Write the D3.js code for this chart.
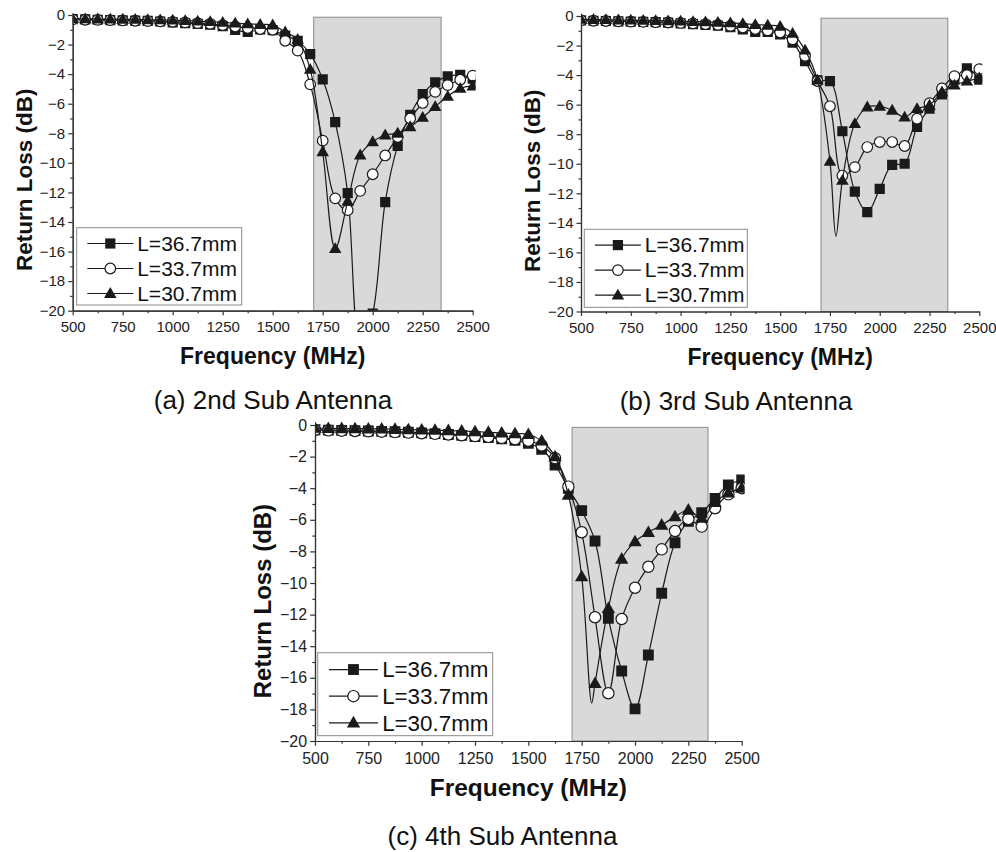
<!DOCTYPE html>
<html>
<head>
<meta charset="utf-8">
<script src="https://cdn.jsdelivr.net/npm/d3@7"></script>
<style>
  body { margin: 0; background: #fff; }
  text { font-family: "Liberation Sans", Arial, sans-serif; }
</style>
</head>
<body>
<div id="chart"></div>
<script>
// frequencies of the measured points (MHz)
const freqs = [500, 562.5, 625, 687.5, 750, 812.5, 875, 937.5, 1000, 1062.5, 1125, 1187.5,
  1250, 1312.5, 1375, 1437.5, 1500, 1562.5, 1625, 1687.5, 1750, 1812.5, 1875, 1937.5,
  2000, 2062.5, 2125, 2187.5, 2250, 2312.5, 2375, 2437.5, 2500];

const seriesNames = ["L=36.7mm", "L=33.7mm", "L=30.7mm"];

// (a) 2nd sub antenna, return loss in dB
const a367 = [-0.28, -0.3, -0.32, -0.34, -0.36, -0.38, -0.4, -0.44, -0.5, -0.55, -0.6, -0.66,
  -0.75, -1.0, -1.15, -0.98, -1.02, -1.4, -1.75, -2.65, -4.35, -7.25, -12.05, -22.5,
  -20.2, -12.65, -8.85, -6.75, -5.35, -4.55, -4.15, -4.05, -4.3];
const a337 = [-0.3, -0.32, -0.33, -0.35, -0.37, -0.39, -0.41, -0.43, -0.46, -0.5, -0.55, -0.6,
  -0.68, -0.78, -0.88, -0.95, -1.0, -1.74, -2.41, -4.69, -8.5, -12.4, -13.2, -11.9,
  -10.77, -9.5, -8.25, -7.0, -5.95, -5.2, -4.74, -4.38, -4.1];
const a307 = [-0.25, -0.26, -0.27, -0.28, -0.29, -0.3, -0.32, -0.33, -0.35, -0.38, -0.41, -0.45,
  -0.5, -0.55, -0.6, -0.64, -0.68, -1.15, -1.65, -3.68, -9.25, -15.8, -12.6, -9.47,
  -8.57, -8.12, -8.0, -7.56, -6.92, -6.2, -5.5, -4.96, -4.8];

// (b) 3rd sub antenna
const b367 = [-0.3, -0.32, -0.34, -0.36, -0.38, -0.4, -0.42, -0.45, -0.5, -0.55, -0.6, -0.65,
  -0.75, -0.9, -1.08, -1.08, -1.24, -1.81, -3.05, -4.35, -4.41, -7.8, -11.88, -13.28,
  -11.7, -10.07, -10.0, -7.5, -6.27, -5.3, -4.3, -3.55, -4.3];
const b337 = [-0.3, -0.32, -0.34, -0.36, -0.38, -0.4, -0.42, -0.44, -0.47, -0.5, -0.55, -0.6,
  -0.67, -0.78, -0.88, -0.97, -1.12, -1.58, -2.7, -4.4, -6.11, -10.8, -10.23, -8.87,
  -8.53, -8.53, -8.8, -6.95, -5.9, -4.9, -4.07, -4.0, -3.6];
const b307 = [-0.22, -0.24, -0.25, -0.27, -0.28, -0.3, -0.31, -0.33, -0.35, -0.38, -0.4, -0.43,
  -0.47, -0.52, -0.58, -0.63, -0.7, -1.18, -2.31, -4.34, -9.84, -11.13, -7.28, -6.16,
  -6.11, -6.38, -6.84, -6.27, -6.04, -5.14, -4.68, -4.41, -4.2];

// (c) 4th sub antenna
const c367 = [-0.3, -0.32, -0.34, -0.36, -0.38, -0.4, -0.43, -0.46, -0.5, -0.55, -0.6, -0.66,
  -0.73, -0.8, -0.88, -0.97, -1.16, -1.54, -2.53, -4.0, -5.42, -7.34, -12.24, -15.57,
  -17.97, -14.56, -10.65, -7.45, -6.1, -5.55, -4.64, -3.8, -3.48];
const c337 = [-0.32, -0.34, -0.36, -0.38, -0.4, -0.42, -0.45, -0.48, -0.52, -0.56, -0.6, -0.65,
  -0.7, -0.75, -0.82, -0.9, -1.0, -1.3, -2.1, -3.9, -6.79, -12.17, -16.98, -12.28,
  -10.3, -8.97, -7.87, -6.71, -5.95, -6.43, -5.27, -4.39, -4.0];
const c307 = [-0.2, -0.21, -0.22, -0.23, -0.24, -0.25, -0.27, -0.29, -0.31, -0.33, -0.35, -0.38,
  -0.42, -0.46, -0.5, -0.55, -0.59, -1.01, -2.0, -4.43, -9.6, -16.35, -11.6, -8.48,
  -7.38, -6.79, -6.33, -5.8, -5.38, -5.9, -4.9, -4.3, -4.0];

// sharp dips of the fitted curves that fall between two markers
const bDip307 = [[1780, -14.9]];
const cDip307 = [[1797, -17.6]];

// shaded band and axis ticks
const band = [1705, 2342];
const bandTop = -0.15;
const xTicks = [500, 750, 1000, 1250, 1500, 1750, 2000, 2250, 2500];
const xMinor = [625, 875, 1125, 1375, 1625, 1875, 2125, 2375];
const yTicks = [0, -2, -4, -6, -8, -10, -12, -14, -16, -18, -20];
const yMinor = [-1, -3, -5, -7, -9, -11, -13, -15, -17, -19];

const panels = [
  { x0: 72.7, x1: 472.7, y0: 15, y1: 310.7, k: 1, caption: "(a) 2nd Sub Antenna", capX: 273, capY: 409,
    xTitleY: 364, legend: [76.7, 227.7, 165, 77.3], series: [a367, a337, a307], dips: [[], [], []] },
  { x0: 581, x1: 979.3, y0: 16, y1: 311.5, k: 1, caption: "(b) 3rd Sub Antenna", capX: 736, capY: 410,
    xTitleY: 365, legend: [584.3, 229.3, 163, 78], series: [b367, b337, b307], dips: [[], [], bDip307] },
  { x0: 315, x1: 741.7, y0: 425, y1: 741, k: 1.065, caption: "(c) 4th Sub Antenna", capX: 502.5, capY: 845,
    xTitleY: 796, legend: [317.7, 652.7, 175, 83], series: [c367, c337, c307], dips: [[], [], cDip307] }
];

const ink = "#1a1a1a";

const svg = d3.select("#chart")
  .append("svg")
  .attr("width", 996)
  .attr("height", 852);

// marker for series i, drawn at (x, y)
function drawMarker(g, i, x, y, k) {
  if (i === 1) {
    g.append("circle")
      .attr("cx", x).attr("cy", y).attr("r", 5.3 * k)
      .attr("fill", "#fff").attr("stroke", ink).attr("stroke-width", 1.2);
  } else {
    const type = i === 0 ? d3.symbolSquare : d3.symbolTriangle;
    const size = i === 0 ? 104 * k * k : 68 * k * k;
    g.append("path")
      .attr("d", d3.symbol().type(type).size(size)())
      .attr("transform", "translate(" + x + "," + (y + (i === 2 ? 0.8 : 0)) + ")")
      .attr("fill", ink);
  }
}

function drawPanel(p, idx) {
  const k = p.k;
  const x = d3.scaleLinear().domain([500, 2500]).range([p.x0, p.x1]);
  const y = d3.scaleLinear().domain([0, -20]).range([p.y0, p.y1]);
  const g = svg.append("g");

  const clipId = "clip" + idx;
  svg.append("clipPath").attr("id", clipId)
    .append("rect")
    .attr("x", p.x0).attr("y", p.y0 - 10)
    .attr("width", p.x1 - p.x0 + 3).attr("height", p.y1 - p.y0 + 10);

  // shaded band
  g.append("rect")
    .attr("x", x(band[0])).attr("y", y(bandTop))
    .attr("width", x(band[1]) - x(band[0])).attr("height", y(-20) - y(bandTop))
    .attr("fill", "#d9d9d9").attr("stroke", "#8a8a8a").attr("stroke-width", 1);

  const plot = g.append("g").attr("clip-path", "url(#" + clipId + ")");
  const line = d3.line()
    .x(d => x(d[0])).y(d => y(d[1]))
    .curve(d3.curveCatmullRom.alpha(0.5));

  p.series.forEach((vals, i) => {
    const pts = freqs.map((f, j) => [f, vals[j]]).concat(p.dips[i]).sort((a, b) => a[0] - b[0]);
    plot.append("path")
      .attr("d", line(pts))
      .attr("fill", "none").attr("stroke", ink).attr("stroke-width", 1.2);
    freqs.forEach((f, j) => drawMarker(plot, i, x(f), y(vals[j]), k));
  });

  // axes
  const tickFont = 15 * k;
  g.append("g").attr("transform", "translate(0," + p.y1 + ")")
    .call(d3.axisBottom(x).tickValues(xTicks).tickFormat(d3.format("d"))
      .tickSize(4.5 * k).tickPadding(6 * k).tickSizeOuter(0));
  g.append("g").attr("transform", "translate(0," + p.y1 + ")")
    .call(d3.axisBottom(x).tickValues(xMinor).tickSize(2.5 * k).tickFormat("").tickSizeOuter(0));
  g.append("g").attr("transform", "translate(" + p.x0 + ",0)")
    .call(d3.axisLeft(y).tickValues(yTicks).tickFormat(d3.format("d"))
      .tickSize(4.5 * k).tickPadding(3 * k).tickSizeOuter(0));
  g.append("g").attr("transform", "translate(" + p.x0 + ",0)")
    .call(d3.axisLeft(y).tickValues(yMinor).tickSize(2.5 * k).tickFormat("").tickSizeOuter(0));

  g.selectAll(".domain, .tick line").attr("stroke", "#333").attr("stroke-width", 1.2);
  g.selectAll(".tick text")
    .attr("fill", "#222")
    .style("font-family", "'Liberation Sans', Arial, sans-serif")
    .style("font-size", tickFont + "px");

  // axis titles
  g.append("text")
    .attr("x", (p.x0 + p.x1) / 2).attr("y", p.xTitleY)
    .attr("text-anchor", "middle")
    .attr("font-weight", "bold").attr("font-size", 23 * k).attr("fill", "#111")
    .text("Frequency (MHz)");
  const tx = p.x0 - 41 * k;
  const ty = (p.y0 + p.y1) / 2 + 17 * k;
  g.append("text")
    .attr("transform", "translate(" + tx + "," + ty + ") rotate(-90)")
    .attr("text-anchor", "middle")
    .attr("font-weight", "bold").attr("font-size", 22.5 * k).attr("fill", "#111")
    .text("Return Loss (dB)");

  // legend
  const [lx, ly, lw, lh] = p.legend;
  g.append("rect")
    .attr("x", lx).attr("y", ly).attr("width", lw).attr("height", lh)
    .attr("fill", "#fff").attr("stroke", "#8a8a8a").attr("stroke-width", 1);
  seriesNames.forEach((name, i) => {
    const ry = ly + 15.8 * k + i * 25 * k;
    g.append("line")
      .attr("x1", lx + 10.6 * k).attr("x2", lx + 56.6 * k)
      .attr("y1", ry).attr("y2", ry)
      .attr("stroke", ink).attr("stroke-width", 1.2);
    drawMarker(g, i, lx + 33.6 * k, ry, k);
    g.append("text")
      .attr("x", lx + 60.5 * k).attr("y", ry + 7.3 * k)
      .attr("font-size", 21 * k).attr("fill", "#111")
      .text(name);
  });

  // caption under the panel
  svg.append("text")
    .attr("x", p.capX).attr("y", p.capY)
    .attr("text-anchor", "middle")
    .attr("font-size", 26).attr("fill", "#111")
    .text(p.caption);
}

panels.forEach(drawPanel);
</script>
</body>
</html>
